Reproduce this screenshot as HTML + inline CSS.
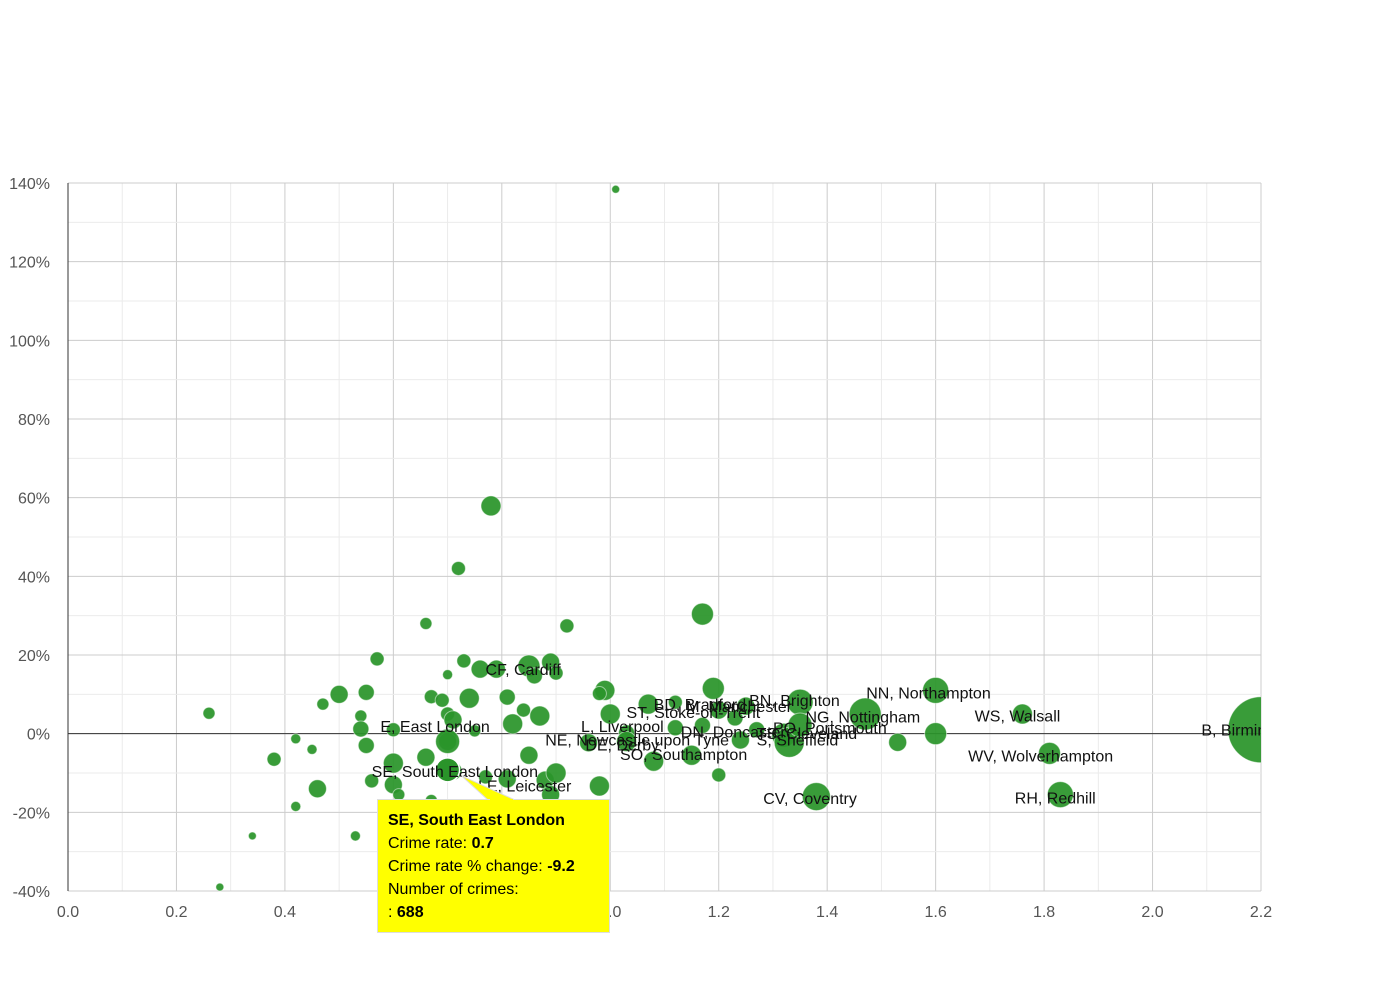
<!DOCTYPE html>
<html><head><meta charset="utf-8"><style>
body{margin:0;background:#fff;}
svg text{font-family:"Liberation Sans",Arial,sans-serif;}
</style></head><body>
<svg id="chart" width="1390" height="980" xmlns="http://www.w3.org/2000/svg"></svg>
<script>
const xs=[1.01,0.78,0.72,0.66,0.92,1.17,0.26,0.38,0.42,0.45,0.47,0.50,0.57,0.55,0.54,0.54,0.55,0.46,0.42,0.34,0.28,0.53,0.56,0.60,0.60,0.60,0.66,0.67,0.69,0.70,0.73,0.76,0.79,0.74,0.70,0.71,0.70,0.70,0.75,0.81,0.82,0.84,0.87,0.85,0.89,0.86,0.90,0.85,0.71,0.77,0.81,0.88,0.90,0.98,0.61,0.67,0.89,0.99,0.98,1.00,1.03,0.96,1.03,1.07,1.08,1.12,1.15,1.19,1.20,1.12,1.17,1.20,1.23,1.24,1.27,1.25,1.32,1.33,1.35,1.35,1.38,1.47,1.53,1.60,1.60,1.76,1.81,1.83,2.20,0.70];
const ys=[138.4,57.9,42,28,27.4,30.4,5.2,-6.5,-1.3,-4,7.5,10,19,10.5,4.5,1.2,-3,-14,-18.5,-26,-39,-26,-12,-13,-7.5,1,-6,9.4,8.5,15,18.5,16.4,16.4,9,5,3.5,-1,-2,0.7,9.3,2.5,6,4.5,17.2,18.2,14.7,15.4,-5.5,-9.5,-11,-11.5,-11.8,-10,-13.3,-15.5,-17,-15.5,11,10.2,5,0.2,-2.3,-2,7.5,-7,8,-5.5,11.5,-10.5,1.5,2.1,6,4,-1.6,1,7,-0.4,-2.2,8,2.2,-16,5,-2.2,11,0,5,-5,-15.5,1,-2];
const crimes=[76,478,234,172,234,578,172,234,120,120,172,387,234,306,172,306,306,387,120,76,76,120,234,387,478,234,387,234,234,120,234,387,387,478,234,387,387,387,172,306,478,234,478,578,387,306,234,387,387,234,387,387,478,478,172,172,387,478,234,478,306,387,478,478,478,234,478,578,234,306,306,387,306,387,306,387,688,1075,808,688,937,1223,387,808,578,478,578,808,5200,688];
const hi=[0.70,-9.2,688];
const xTicks=[0,0.2,0.4,0.6,0.8,1.0,1.2,1.4,1.6,1.8,2.0,2.2];
const yTicks=[-40,-20,0,20,40,60,80,100,120,140];
const labels=[["CF, Cardiff",0.77,16.4],["E, East London",0.576,2],["SE, South East London",0.56,-9.5],["LE, Leicester",0.756,-13.2],["NE, Newcastle upon Tyne",0.88,-1.5],["DE, Derby",0.954,-2.7],["SO, Southampton",1.018,-5.2],["L, Liverpool",0.946,1.9],["ST, Stoke-on-Trent",1.03,5.5],["BD, Bradford",1.08,7.5],["M, Manchester",1.14,7],["BN, Brighton",1.256,8.5],["DN, Doncaster",1.13,0.5],["PO, Portsmouth",1.3,1.6],["TS, Cleveland",1.27,0.2],["S, Sheffield",1.27,-1.5],["NG, Nottingham",1.36,4.4],["NN, Northampton",1.472,10.5],["WS, Walsall",1.672,4.6],["WV, Wolverhampton",1.66,-5.6],["CV, Coventry",1.282,-16.4],["RH, Redhill",1.746,-16.2],["B, Birmingham",2.09,1]];
const NS="http://www.w3.org/2000/svg";
const svg=document.getElementById('chart');
const L=68,R=1261,T=183,B=891;
const xS=v=>L+(v-0)/2.2*(R-L);
const yS=v=>B-(v+40)/180*(B-T);
const rS=c=>Math.sqrt(c)*0.4575;
function mk(tag,attrs,parent){const e=document.createElementNS(NS,tag);for(const k in attrs)e.setAttribute(k,attrs[k]);(parent||svg).appendChild(e);return e;}
const grid=mk('g',{});


for(let v=0;v<=2.2001;v+=0.1){const x=xS(v);const major=Math.round(v*10)%2===0;mk('line',{x1:x,x2:x,y1:T,y2:B,stroke:major?'#ccc':'#ebebeb','stroke-width':1},grid);}
for(let v=-40;v<=140;v+=10){const y=yS(v);const major=v%20===0;mk('line',{x1:L,x2:R,y1:y,y2:y,stroke:major?'#ccc':'#ebebeb','stroke-width':1},grid);}
const zl=mk('line',{x1:L,x2:R,y1:yS(0),y2:yS(0),stroke:'#333','stroke-width':1});


const ya=mk('line',{x1:L,x2:L,y1:T,y2:B,stroke:'#333','stroke-width':1});


xTicks.forEach(t=>{const e=mk('text',{x:xS(t),y:917,'text-anchor':'middle','font-size':16,fill:'#555'});e.textContent=t.toFixed(1);

});
yTicks.forEach(t=>{const e=mk('text',{x:50,y:yS(t)+6,'text-anchor':'end','font-size':16,fill:'#555'});e.textContent=t+'%';

});
const cp=mk('clipPath',{id:'cp'});mk('rect',{x:L,y:T-10,width:R-L,height:B-T+20},cp);
const bg=mk('g',{'clip-path':'url(#cp)'});
xs.forEach((x,i)=>{const c=mk('circle',{cx:xS(x),cy:yS(ys[i]),r:rS(crimes[i]),fill:'#2a942a','fill-opacity':0.93,stroke:'#fff','stroke-opacity':0.5,'stroke-width':1},bg);

});
const hc=mk('circle',{cx:xS(hi[0]),cy:yS(hi[1]),r:rS(hi[2]),fill:'#2a942a',stroke:'#fff','stroke-width':1.5},bg);


mk('circle',{cx:xS(hi[0]),cy:yS(hi[1]),r:rS(hi[2])-2.5,fill:'none',stroke:'#2a942a','stroke-width':1},bg);
const lg=mk('g',{'clip-path':'url(#cp)'});
labels.forEach(l=>{const e=mk('text',{x:xS(l[1]),y:yS(l[2])+6,'font-size':16,fill:'#111'},lg);e.textContent=l[0];

});
const tt=mk('g',{});


mk('polygon',{points:`${xS(hi[0])+14},${yS(hi[1])+6} 488,800 515,800`,fill:'#ffff00',stroke:'#ddd'},tt);
mk('rect',{x:377.5,y:799.5,width:232,height:133,fill:'#ffff00',stroke:'#ddd'},tt);
mk('line',{x1:490,x2:513,y1:800,y2:800,stroke:'#ffff00','stroke-width':2},tt);
const lines=[[["SE, South East London",true]],[["Crime rate: ",false],["0.7",true]],[["Crime rate % change: ",false],["-9.2",true]],[["Number of crimes:",false]],[[": ",false],["688",true]]];
lines.forEach((ln,i)=>{const e=mk('text',{x:388,y:825+i*23,'font-size':16,fill:'#000'},tt);ln.forEach(p=>{const s=mk('tspan',{'font-weight':p[1]?'bold':'normal'},e);s.textContent=p[0];});});
</script>
</body></html>
